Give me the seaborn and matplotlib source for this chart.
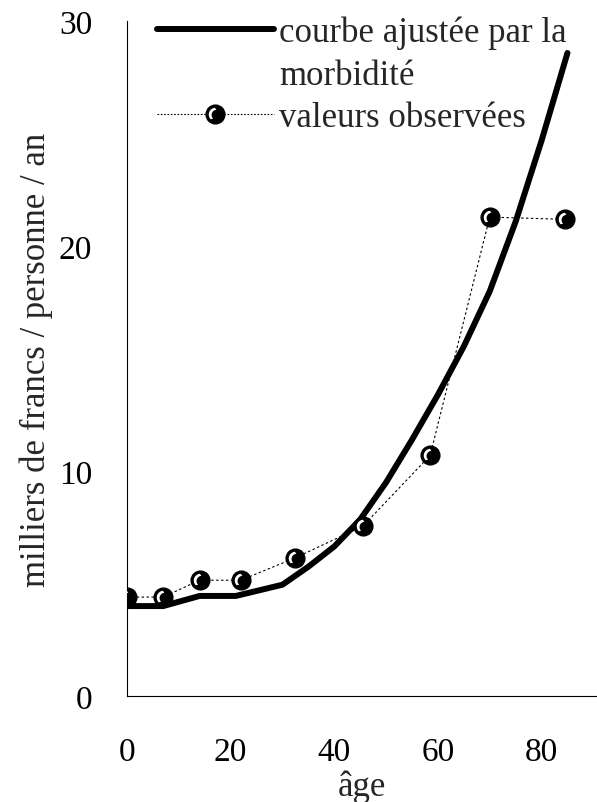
import numpy as np
import pandas as pd
import matplotlib
matplotlib.use("Agg")
import matplotlib.pyplot as plt
import seaborn as sns
from matplotlib.path import Path
from matplotlib.lines import Line2D

# ---- data ----
fit_age = [0, 7, 14, 21, 30, 35, 40, 45, 50, 55, 60, 65, 70, 75, 80, 85]
fit_val = [4.0, 4.0, 4.45, 4.45, 4.95, 5.75, 6.65, 7.85, 9.5, 11.4, 13.4, 15.55, 18.0, 21.1, 24.7, 28.6]
obs_age = [0, 7, 14, 22, 32.5, 45.5, 58.5, 70, 84.5]
obs_val = [4.4, 4.4, 5.15, 5.15, 6.15, 7.55, 10.7, 21.3, 21.2]
x_ticks = [0, 20, 40, 60, 80]
y_ticks = [0, 10, 20, 30]
lbl_fit = "courbe ajustée par la"
lbl_fit2 = "morbidité"
lbl_obs = "valeurs observées"
xlabel = "âge"
ylabel = "milliers de francs / personne / an"

sns.set_theme(style="white")
plt.rcParams["font.family"] = ["Liberation Serif", "DejaVu Serif"]

fig = plt.figure(figsize=(5.97, 8.03), dpi=100)
ax = fig.add_axes([0.2127, 0.132, 0.7873, 0.840])

df_fit = pd.DataFrame({"age": fit_age, "val": fit_val})
df_obs = pd.DataFrame({"age": obs_age, "val": obs_val})

sns.lineplot(data=df_fit, x="age", y="val", ax=ax, color="black", lw=4.3,
             sort=False, zorder=3)
sns.lineplot(data=df_obs, x="age", y="val", ax=ax, color="black", lw=0.8,
             linestyle=(0, (2.2, 2.2)), sort=False, zorder=2)

# sphere-like markers: black disk + white crescent highlight
MS = 13.5
th_out = np.linspace(np.radians(95), np.radians(225), 30)
th_in = np.linspace(np.radians(225), np.radians(95), 30)
outer = np.column_stack([0.72 * np.cos(th_out), 0.72 * np.sin(th_out)])
inner = np.column_stack([0.14 + 0.56 * np.cos(th_in), -0.06 + 0.56 * np.sin(th_in)])
verts = np.vstack([outer, inner, outer[:1]])
codes = [Path.MOVETO] + [Path.LINETO] * (len(verts) - 2) + [Path.CLOSEPOLY]
crescent = Path(verts, codes)
R = np.max(np.abs(verts))

ax.plot(obs_age, obs_val, linestyle="none", marker="o", ms=MS, mfc="black",
        mec="black", zorder=4)
ax.plot(obs_age, obs_val, linestyle="none", marker=crescent, ms=MS * R,
        mfc="white", mec="none", zorder=5)

ax.set_xlim(0, 90.7)
ax.set_ylim(0, 30)
ax.set_xticks(x_ticks)
ax.set_yticks(y_ticks)
ax.tick_params(axis="x", direction="out", length=7, width=0.8, pad=22,
               labelsize=24, colors="black")
ax.tick_params(axis="y", direction="out", length=7, width=0.8, pad=18,
               labelsize=24, colors="black")
ax.set_xlabel(xlabel, fontsize=25, labelpad=2)
ax.set_ylabel(ylabel, fontsize=25, labelpad=4)
for s in ["top", "right"]:
    ax.spines[s].set_visible(False)
for s in ["left", "bottom"]:
    ax.spines[s].set_linewidth(0.8)
    ax.spines[s].set_color("black")
ax.set_facecolor("white")

h_fit = Line2D([], [], color="black", lw=4.3)
h_blank = Line2D([], [], color="none", lw=0)
h_obs_line = Line2D([], [], color="black", lw=0.8, linestyle=(0, (1.5, 1.5)),
                    marker="o", ms=MS, mfc="black", mec="black")
h_obs_cres = Line2D([], [], linestyle="none", marker=crescent, ms=MS * R,
                    mfc="white", mec="none")
leg = ax.legend([h_fit, h_blank, (h_obs_line, h_obs_cres)],
                [lbl_fit, lbl_fit2, lbl_obs],
                loc="upper left", bbox_to_anchor=(0.034, 1.029),
                frameon=False, fontsize=25, handlelength=3.37,
                handletextpad=0.15, labelspacing=0.27, borderaxespad=0,
                numpoints=1)

fig.savefig("out.png", dpi=100, facecolor="white")
